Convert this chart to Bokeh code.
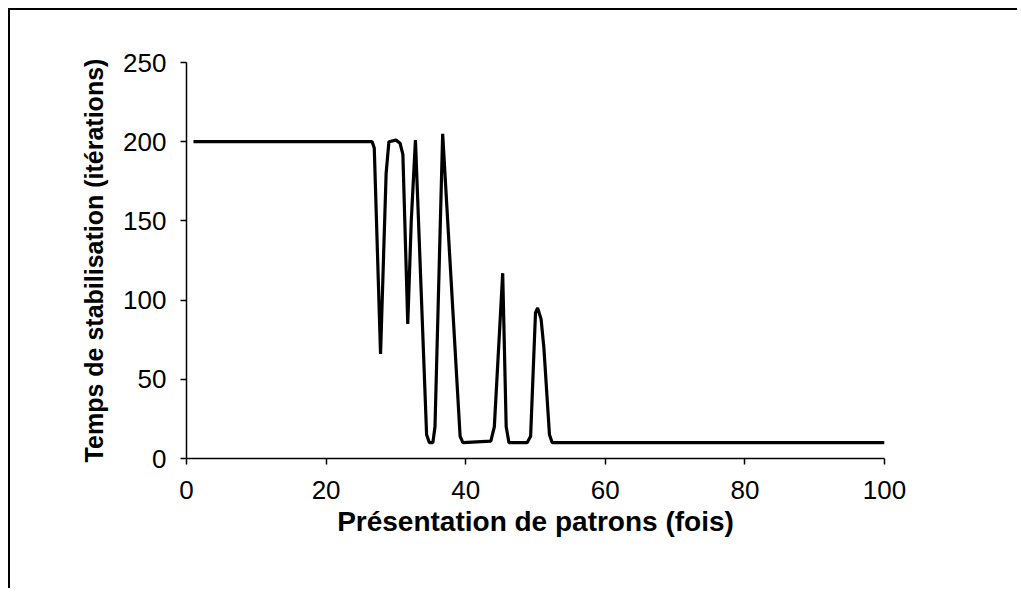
from bokeh.plotting import figure
from bokeh.models import Range1d, FixedTicker
from bokeh.embed import file_html
from bokeh.resources import INLINE

# Data
presentation = [1, 26.6, 26.9, 27.8, 28.6, 29.0, 30.0, 30.6, 31.0, 31.7, 32.2, 32.8,
                34.4, 34.8, 35.3, 35.6, 36.7, 39.2, 39.6, 43.6, 44.1, 45.3, 45.8,
                46.2, 48.8, 49.3, 50.0, 50.3, 50.8, 51.2, 52.0, 52.4, 100]
temps = [200, 200, 196, 66, 180, 200, 201, 199, 192, 85, 150, 201,
         15, 10, 10, 20, 205, 14, 10, 11, 20, 117, 20,
         10, 10, 14, 92, 95, 88, 70, 15, 10, 10]
x_ticks = [0, 20, 40, 60, 80, 100]
y_ticks = [0, 50, 100, 150, 200, 250]

FONT = "Liberation Sans"

p = figure(width=1009, height=580, output_backend="svg", toolbar_location=None,
           x_range=Range1d(0, 100), y_range=Range1d(0, 250),
           min_border_left=176, min_border_right=135,
           min_border_top=52, min_border_bottom=132)
p.styles = {"border-top": "2px solid black", "border-left": "2px solid black",
            "margin-left": "8px", "margin-top": "8px"}
p.outline_line_color = None
p.xgrid.visible = False
p.ygrid.visible = False

p.line(presentation, temps, line_color="black", line_width=3.2)

for ax, ticks in ((p.xaxis[0], x_ticks), (p.yaxis[0], y_ticks)):
    ax.ticker = FixedTicker(ticks=ticks)
    ax.minor_tick_line_color = None
    ax.major_tick_out = 6
    ax.major_tick_in = 0
    ax.axis_line_color = "black"
    ax.axis_line_width = 1.5
    ax.major_tick_line_width = 1.5
    ax.major_label_text_font = FONT
    ax.major_label_text_font_size = "26px"
    ax.major_label_text_color = "black"
    ax.axis_label_text_font = FONT
    ax.axis_label_text_font_style = "bold"
    ax.axis_label_text_color = "black"

p.xaxis.axis_label = "Présentation de patrons (fois)"
p.yaxis.axis_label = "Temps de stabilisation (itérations)"
p.xaxis.axis_label_text_font_size = "28px"
p.yaxis.axis_label_text_font_size = "25px"
p.xaxis.major_label_standoff = 16
p.yaxis.major_label_standoff = 14
p.xaxis.axis_label_standoff = 4
p.yaxis.axis_label_standoff = 12

open("out.html", "w").write(file_html(p, INLINE))
